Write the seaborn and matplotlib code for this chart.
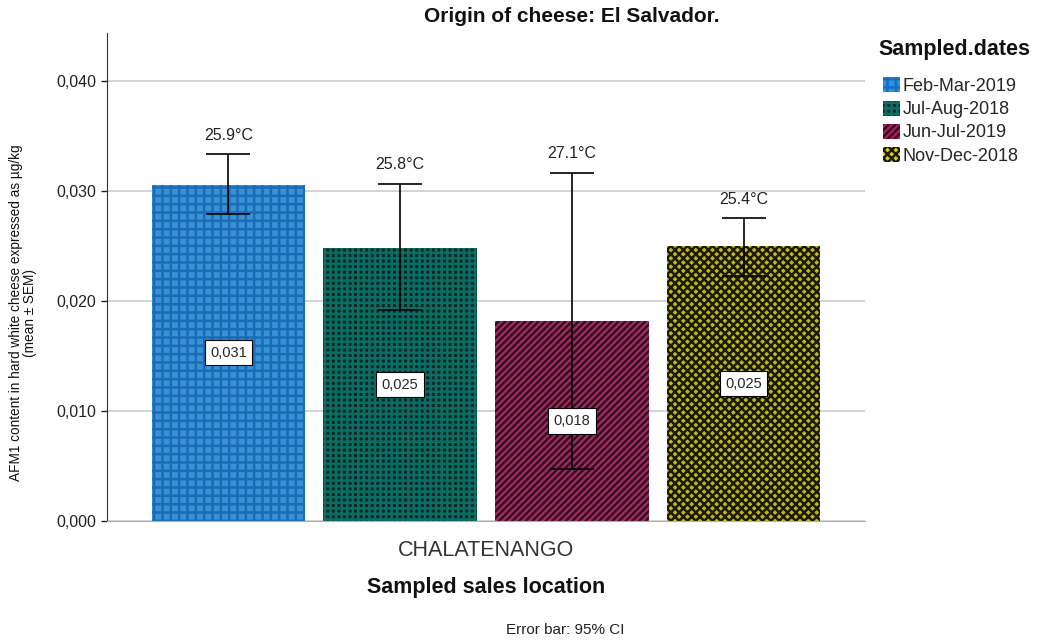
import pandas as pd
import matplotlib.pyplot as plt
import matplotlib.patches as mpatches
from matplotlib.ticker import FuncFormatter
import seaborn as sns

# values
locations = ["CHALATENANGO"] * 4
dates = ["Feb-Mar-2019", "Jul-Aug-2018", "Jun-Jul-2019", "Nov-Dec-2018"]
means = [0.0306, 0.0248, 0.0182, 0.0250]
ci_low = [0.0279, 0.0192, 0.0047, 0.0223]
ci_high = [0.0334, 0.0307, 0.0317, 0.0276]
temps = ["25.9°C", "25.8°C", "27.1°C", "25.4°C"]

face_colors = ["#1f95ec", "#042d29", "#b01c62", "#dcd200"]
hatch_colors = ["#1a6cb8", "#0c6d63", "#3a0a20", "#1a1a00"]
hatches = ["++", "+++", "/////", "xxxx"]

df = pd.DataFrame({"location": locations, "dates": dates, "mean": means})

sns.set_style("white")
plt.rcParams["font.family"] = ["Liberation Sans", "DejaVu Sans"]
plt.rcParams["hatch.linewidth"] = 1.8

fig = plt.figure(figsize=(10.38, 6.42), dpi=100)
ax = fig.add_axes([0.1031, 0.1885, 0.7302, 0.7601])

sns.barplot(data=df, x="location", y="mean", hue="dates", hue_order=dates,
            palette=face_colors, errorbar=None, width=0.906, gap=0.104,
            ax=ax, legend=False)

bar_containers = list(ax.containers)
for i, cont in enumerate(bar_containers):
    for bar in cont.patches:
        bar.set_hatch(hatches[i])
        bar.set_edgecolor(hatch_colors[i])
        bar.set_linewidth(0)
        x = bar.get_x() + bar.get_width() / 2
        h = bar.get_height()
        ax.errorbar(x, means[i], yerr=[[means[i] - ci_low[i]], [ci_high[i] - means[i]]],
                    fmt="none", ecolor="black", elinewidth=1.2, capsize=16,
                    capthick=1.2, zorder=5)
        ax.annotate(temps[i], (x, ci_high[i]), xytext=(0, 8), textcoords="offset points",
                    ha="center", va="bottom", fontsize=11.5, color="#222222")
        ax.text(x, h / 2, f"{means[i]:.3f}".replace(".", ","), ha="center", va="center",
                fontsize=10.5, zorder=6,
                bbox=dict(boxstyle="square,pad=0.38", fc="white", ec="black", lw=0.8))

ax.set_ylim(0, 0.0444)
ax.set_xlim(-0.5, 0.5)
ax.set_yticks([0, 0.01, 0.02, 0.03, 0.04])
ax.yaxis.set_major_formatter(FuncFormatter(lambda v, p: f"{v:.3f}".replace(".", ",")))
ax.yaxis.grid(True, color="#d0d0d0", linewidth=1.3)
ax.set_axisbelow(True)
ax.tick_params(axis="y", left=True, length=4, width=1, labelsize=11.5, colors="#222222")
ax.tick_params(axis="x", bottom=False, labelsize=15.5, labelcolor="#333333", pad=10)
for s in ["top", "right"]:
    ax.spines[s].set_visible(False)
ax.spines["left"].set_color("#333333")
ax.spines["bottom"].set_color("#b0b0b0")

fig.text(572 / 1038, 1 - 16 / 642, "Origin of cheese: El Salvador.", ha="center", va="center",
         fontsize=15, fontweight="bold", color="#111111")
ax.set_xlabel("Sampled sales location", fontsize=15.5, fontweight="bold", labelpad=12,
              color="#111111")
ax.set_ylabel("AFM1 content in hard white cheese expressed as µg/kg\n(mean ± SEM)",
              fontsize=9.8, linespacing=1.0, color="#111111")
ax.yaxis.set_label_coords(-0.092, 0.426)

fig.text(565 / 1038, 1 - 630 / 642, "Error bar: 95% CI", ha="center", va="center",
         fontsize=11, color="#222222")

# legend title drawn separately so the gap to the entries matches
fig.text(878 / 1038, 1 - 50 / 642, "Sampled.dates", ha="left", va="center",
         fontsize=15.5, fontweight="bold", color="#111111")
handles = [mpatches.Patch(facecolor=face_colors[i], edgecolor=hatch_colors[i],
                          hatch=hatches[i], linewidth=0, label=dates[i]) for i in range(4)]
fig.legend(handles=handles, loc="upper left", bbox_to_anchor=(869 / 1038, 1 - 63 / 642),
           frameon=False, fontsize=13, handlelength=0.9, handleheight=0.9,
           handletextpad=0.15, labelspacing=0.3, borderpad=0.3)

fig.savefig("out.png", dpi=100)
